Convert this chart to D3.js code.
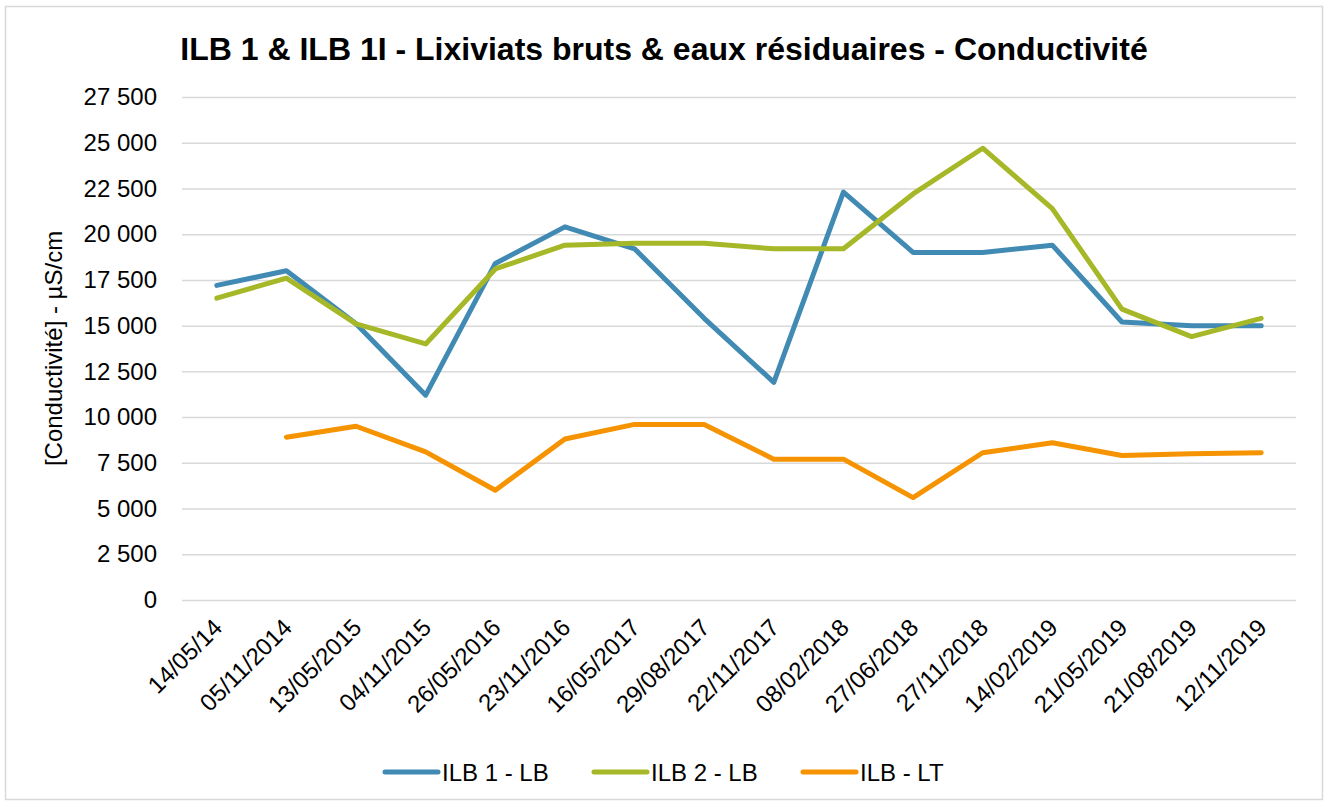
<!DOCTYPE html>
<html>
<head>
<meta charset="utf-8">
<script src="https://cdn.jsdelivr.net/npm/d3@7"></script>
<style>
  html, body { margin: 0; padding: 0; background: #fff; }
  svg { display: block; font-family: "Liberation Sans", Arial, sans-serif; }
</style>
</head>
<body>
<script>
var width = 1328,
  height = 805;

var dates = ["14/05/14", "05/11/2014", "13/05/2015", "04/11/2015", "26/05/2016", "23/11/2016",
  "16/05/2017", "29/08/2017", "22/11/2017", "08/02/2018", "27/06/2018", "27/11/2018",
  "14/02/2019", "21/05/2019", "21/08/2019", "12/11/2019"];

var ilb1LB = [17200, 18000, 15100, 11200, 18400, 20400, 19200, 15400, 11900, 22300, 19000, 19000, 19400, 15200, 15000, 15000];
var ilb2LB = [16500, 17600, 15100, 14000, 18100, 19400, 19500, 19500, 19200, 19200, 22200, 24700, 21400, 15900, 14400, 15400];
var ilbLT = [null, 8900, 9500, 8100, 6000, 8800, 9600, 9600, 7700, 7700, 5600, 8050, 8600, 7900, 8000, 8050];

var seriesNames = ["ILB 1 - LB", "ILB 2 - LB", "ILB - LT"];
var seriesColors = ["#418AB3", "#A6B727", "#F59300"];
var yTicks = d3.range(0, 27501, 2500);

var series = [ilb1LB, ilb2LB, ilbLT].map(function(v, i) {
  return { name: seriesNames[i], color: seriesColors[i], values: v };
});

var margin = { top: 97, right: 32, bottom: 205, left: 182 };

var svg = d3
  .select("body")
  .append("svg")
  .attr("width", width)
  .attr("height", height);

// chart border
svg
  .append("rect")
  .attr("x", 5.5)
  .attr("y", 6.5)
  .attr("width", 1317)
  .attr("height", 793)
  .attr("fill", "#fff")
  .attr("stroke", "#d9d9d9")
  .attr("stroke-width", 1.5);

var x = d3
  .scaleBand()
  .domain(dates)
  .range([margin.left, width - margin.right]);

var y = d3
  .scaleLinear()
  .domain([0, 27500])
  .range([height - margin.bottom, margin.top]);

var fmt = function(d) {
  return d3.format(",")(d).replace(/,/g, " ");
};

// gridlines + y labels
var yAxis = svg
  .append("g")
  .attr("transform", "translate(" + margin.left + ",0)")
  .call(
    d3
      .axisLeft(y)
      .tickValues(yTicks)
      .tickSize(-(width - margin.left - margin.right))
      .tickPadding(25)
      .tickFormat(fmt)
  );
yAxis.select(".domain").remove();
yAxis.selectAll(".tick line").attr("stroke", "#d9d9d9").attr("stroke-width", 1.5);
yAxis
  .selectAll(".tick text")
  .attr("fill", "#000")
  .style("font-size", "24px")
  .style("font-family", "Liberation Sans, Arial, sans-serif");

// x labels
var xAxis = svg
  .append("g")
  .attr("transform", "translate(0," + y(0) + ")")
  .call(d3.axisBottom(x).tickSize(0).tickPadding(0));
xAxis.select(".domain").remove();
xAxis
  .selectAll(".tick text")
  .attr("fill", "#000")
  .attr("text-anchor", "end")
  .attr("dy", 0)
  .attr("y", 0)
  .attr("transform", "translate(7,29) rotate(-45)")
  .style("font-size", "24px")
  .style("font-family", "Liberation Sans, Arial, sans-serif");

// lines
var line = d3
  .line()
  .defined(function(d) {
    return d.v !== null;
  })
  .x(function(d) {
    return x(d.date) + x.bandwidth() / 2;
  })
  .y(function(d) {
    return y(d.v);
  });

svg
  .selectAll(".series")
  .data(series)
  .enter()
  .append("path")
  .attr("class", "series")
  .attr("fill", "none")
  .attr("stroke", function(d) {
    return d.color;
  })
  .attr("stroke-width", 5)
  .attr("stroke-linejoin", "round")
  .attr("stroke-linecap", "round")
  .attr("d", function(d) {
    return line(
      d.values.map(function(v, i) {
        return { date: dates[i], v: v };
      })
    );
  });

// title
svg
  .append("text")
  .attr("x", 664)
  .attr("y", 60)
  .attr("text-anchor", "middle")
  .style("font-size", "32px")
  .style("font-weight", "bold")
  .text("ILB 1 & ILB 1I - Lixiviats bruts & eaux résiduaires - Conductivité");

// y title
svg
  .append("text")
  .attr("transform", "translate(62," + (margin.top + y(0)) / 2 + ") rotate(-90)")
  .attr("text-anchor", "middle")
  .style("font-size", "24px")
  .text("[Conductivité] - µS/cm");

// legend
var legendX = [383, 592, 801];
var legend = svg
  .selectAll(".legend")
  .data(series)
  .enter()
  .append("g")
  .attr("class", "legend")
  .attr("transform", function(d, i) {
    return "translate(" + legendX[i] + ",772)";
  });

legend
  .append("line")
  .attr("x1", 2)
  .attr("x2", 55)
  .attr("stroke", function(d) {
    return d.color;
  })
  .attr("stroke-width", 5)
  .attr("stroke-linecap", "round");

legend
  .append("text")
  .attr("x", 59)
  .attr("dy", "0.36em")
  .style("font-size", "24px")
  .text(function(d) {
    return d.name;
  });
</script>
</body>
</html>
